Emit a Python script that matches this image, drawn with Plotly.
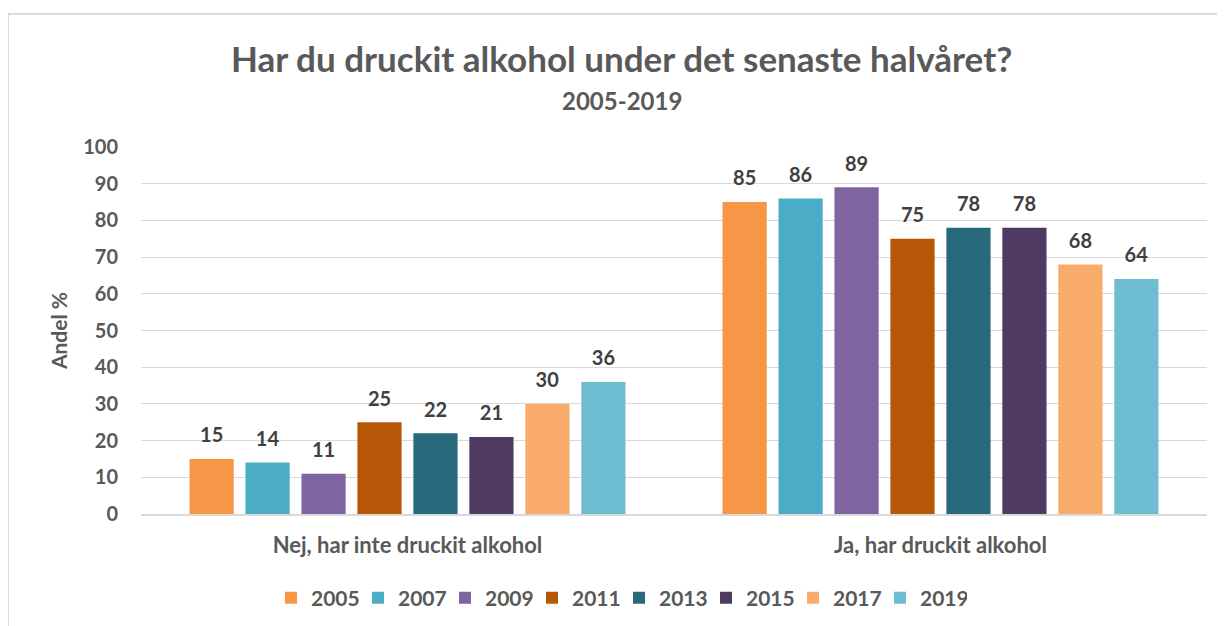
import plotly.graph_objects as go

# data
categories = ['Nej, har inte druckit alkohol', 'Ja, har druckit alkohol']
years = ['2005', '2007', '2009', '2011', '2013', '2015', '2017', '2019']
values = {
    '2005': [15, 85],
    '2007': [14, 86],
    '2009': [11, 89],
    '2011': [25, 75],
    '2013': [22, 78],
    '2015': [21, 78],
    '2017': [30, 68],
    '2019': [36, 64],
}
colors = ['#F79646', '#4BACC6', '#8064A2', '#B65708',
          '#276A7C', '#4F3B62', '#F9AB6B', '#6FBDD1']
y_ticks = list(range(0, 101, 10))

FONT = 'Lato'
GREY = '#595959'

# the page body adds an 8px offset, so screen targets are shifted by 8
OFF = 8
W, H = 1225, 626
ML, MT = 141 - OFF, 147 - OFF
MR = W - (1207 - OFF)
MB = H - (514 - OFF)
pw, ph = W - ML - MR, H - MT - MB
def px_x(x):
    return (x - OFF - ML) / pw
def px_y(y):
    return (H - MB - (y - OFF)) / ph

fig = go.Figure()
for yr, col in zip(years, colors):
    # number plus a small empty line underneath, lifts the label off the bar
    labels = ['<span style="font-size:20px">%d</span><br> ' % v for v in values[yr]]
    fig.add_trace(go.Bar(
        x=categories, y=values[yr], name=yr,
        marker=dict(color=col, line=dict(width=0)),
        text=labels, textposition='outside',
        textfont=dict(family=FONT, size=9, color='#404040', weight='bold'),
        cliponaxis=False, hoverinfo='x+y+name',
    ))

fig.update_layout(
    width=W, height=H,
    margin=dict(l=ML, r=MR, t=MT, b=MB, autoexpand=False),
    paper_bgcolor='white', plot_bgcolor='white',
    barmode='group', bargap=0.16, bargroupgap=0.21,
    font=dict(family=FONT, color=GREY, weight='bold'),
    showlegend=True,
    legend=dict(orientation='h', x=px_x(619), xanchor='center', y=px_y(598), yanchor='middle',
                font=dict(size=21, color=GREY, family=FONT, weight='bold'),
                itemwidth=30, entrywidth=42, entrywidthmode='pixels',
                traceorder='normal'),
    annotations=[
        dict(text='Har du druckit alkohol under det senaste halvåret?',
             x=px_x(621), y=px_y(58), xref='paper', yref='paper', showarrow=False,
             xanchor='center', yanchor='middle',
             font=dict(size=35, color=GREY, family=FONT, weight='bold')),
        dict(text='2005-2019',
             x=px_x(622), y=px_y(100), xref='paper', yref='paper', showarrow=False,
             xanchor='center', yanchor='middle',
             font=dict(size=24, color=GREY, family=FONT, weight='bold')),
    ],
)

fig.update_yaxes(
    range=[0, 100], tickvals=y_ticks, showgrid=True, gridcolor='#D9D9D9', gridwidth=1.3,
    zeroline=False, showline=False, ticks='', ticklabelstandoff=22, automargin=False,
    tickfont=dict(size=20, color=GREY, family=FONT, weight='bold'),
    title=dict(text='Andel %', standoff=9,
               font=dict(size=21, color=GREY, family=FONT, weight='bold')),
)
fig.update_xaxes(
    showline=True, linecolor='#D9D9D9', linewidth=2, ticks='', ticklabelstandoff=11,
    automargin=False,
    tickfont=dict(size=22, color=GREY, family=FONT, weight='bold'),
)

# chart frame
fig.add_shape(type='rect', xref='paper', yref='paper',
              x0=px_x(8), x1=px_x(1233), y0=px_y(640), y1=px_y(14),
              line=dict(color='#D9D9D9', width=2), fillcolor='rgba(0,0,0,0)', layer='below')

fig.write_html('out.html')
